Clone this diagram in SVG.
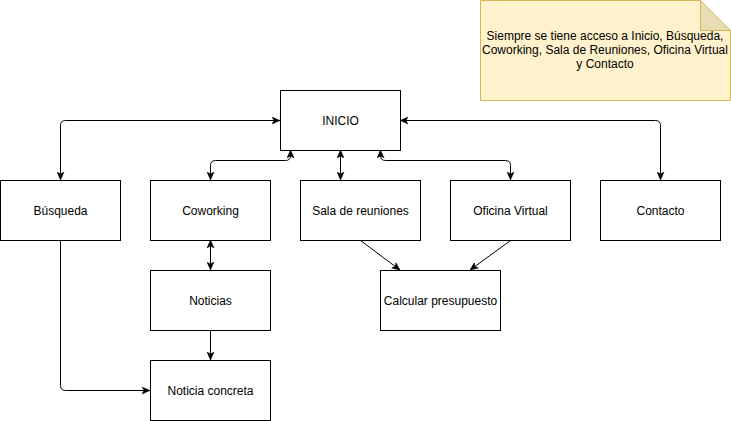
<svg xmlns="http://www.w3.org/2000/svg" width="731" height="421" viewBox="0 0 731 421">
<style>
.box{fill:#ffffff;stroke:#000000;stroke-width:1}
.lbl{font-family:"Liberation Sans",Arial,sans-serif;font-size:12px;fill:#000000;text-anchor:middle}
.edge{fill:none;stroke:#000000;stroke-width:1}
.one{marker-end:url(#arr)}
.two{marker-start:url(#arr);marker-end:url(#arr)}
</style>
<defs>
<marker id="arr" viewBox="0 0 8 8" refX="8" refY="4" markerWidth="8" markerHeight="8" markerUnits="userSpaceOnUse" orient="auto-start-reverse">
<path d="M0,0.5 L8,4 L0,7.5 L2,4 Z" fill="#000000" stroke="#000000" stroke-width="0.5"/>
</marker>
</defs>
<rect width="731" height="421" fill="#ffffff"/>
<g id="note">
<path d="M480.5,0.5 L700.5,0.5 L730.5,30.5 L730.5,100.5 L480.5,100.5 Z" fill="#fff2cc" stroke="#d6b656"/>
<path d="M700.5,0.5 L700.5,30.5 L730.5,30.5 Z" fill="#eadcb4" stroke="#d6b656"/>
<text class="lbl" x="605" y="40">Siempre se tiene acceso a Inicio, Búsqueda,</text>
<text class="lbl" x="605" y="54">Coworking, Sala de Reuniones, Oficina Virtual</text>
<text class="lbl" x="605" y="68">y Contacto</text>
</g>
<g id="connectors">
<path class="edge two" d="M60.5,180 L60.5,125.5 Q60.5,120.5 65.5,120.5 L280,120.5"/>
<path class="edge two" d="M210.5,180 L210.5,165.5 Q210.5,160.5 215.5,160.5 L285.5,160.5 Q290.5,160.5 290.5,155.5 L290.5,150"/>
<path class="edge two" d="M340.5,150 L340.5,180"/>
<path class="edge two" d="M380.5,150 L380.5,155.5 Q380.5,160.5 385.5,160.5 L505.5,160.5 Q510.5,160.5 510.5,165.5 L510.5,180"/>
<path class="edge two" d="M400,120.5 L655.5,120.5 Q660.5,120.5 660.5,125.5 L660.5,180"/>
<path class="edge two" d="M210.5,240 L210.5,270"/>
<path class="edge one" d="M210.5,330 L210.5,360"/>
<path class="edge one" d="M60.5,240 L60.5,385.5 Q60.5,390.5 65.5,390.5 L150,390.5"/>
<path class="edge one" d="M360.5,240.5 L400,270"/>
<path class="edge one" d="M510.5,240.5 L470,270"/>
</g>
<g id="inicio"><rect class="box" x="280.5" y="90.5" width="120" height="60"/><text class="lbl" x="340.5" y="124.5">INICIO</text></g>
<g id="busqueda"><rect class="box" x="0.5" y="180.5" width="120" height="60"/><text class="lbl" x="60.5" y="214.5">Búsqueda</text></g>
<g id="coworking"><rect class="box" x="150.5" y="180.5" width="120" height="60"/><text class="lbl" x="210.5" y="214.5">Coworking</text></g>
<g id="sala"><rect class="box" x="300.5" y="180.5" width="120" height="60"/><text class="lbl" x="360.5" y="214.5">Sala de reuniones</text></g>
<g id="oficina"><rect class="box" x="450.5" y="180.5" width="120" height="60"/><text class="lbl" x="510.5" y="214.5">Oficina Virtual</text></g>
<g id="contacto"><rect class="box" x="600.5" y="180.5" width="120" height="60"/><text class="lbl" x="660.5" y="214.5">Contacto</text></g>
<g id="noticias"><rect class="box" x="150.5" y="270.5" width="120" height="60"/><text class="lbl" x="210.5" y="304.5">Noticias</text></g>
<g id="calcular"><rect class="box" x="380.5" y="270.5" width="120" height="60"/><text class="lbl" x="440.5" y="304.5">Calcular presupuesto</text></g>
<g id="noticia-concreta"><rect class="box" x="150.5" y="360.5" width="120" height="60"/><text class="lbl" x="210.5" y="394.5">Noticia concreta</text></g>
</svg>
